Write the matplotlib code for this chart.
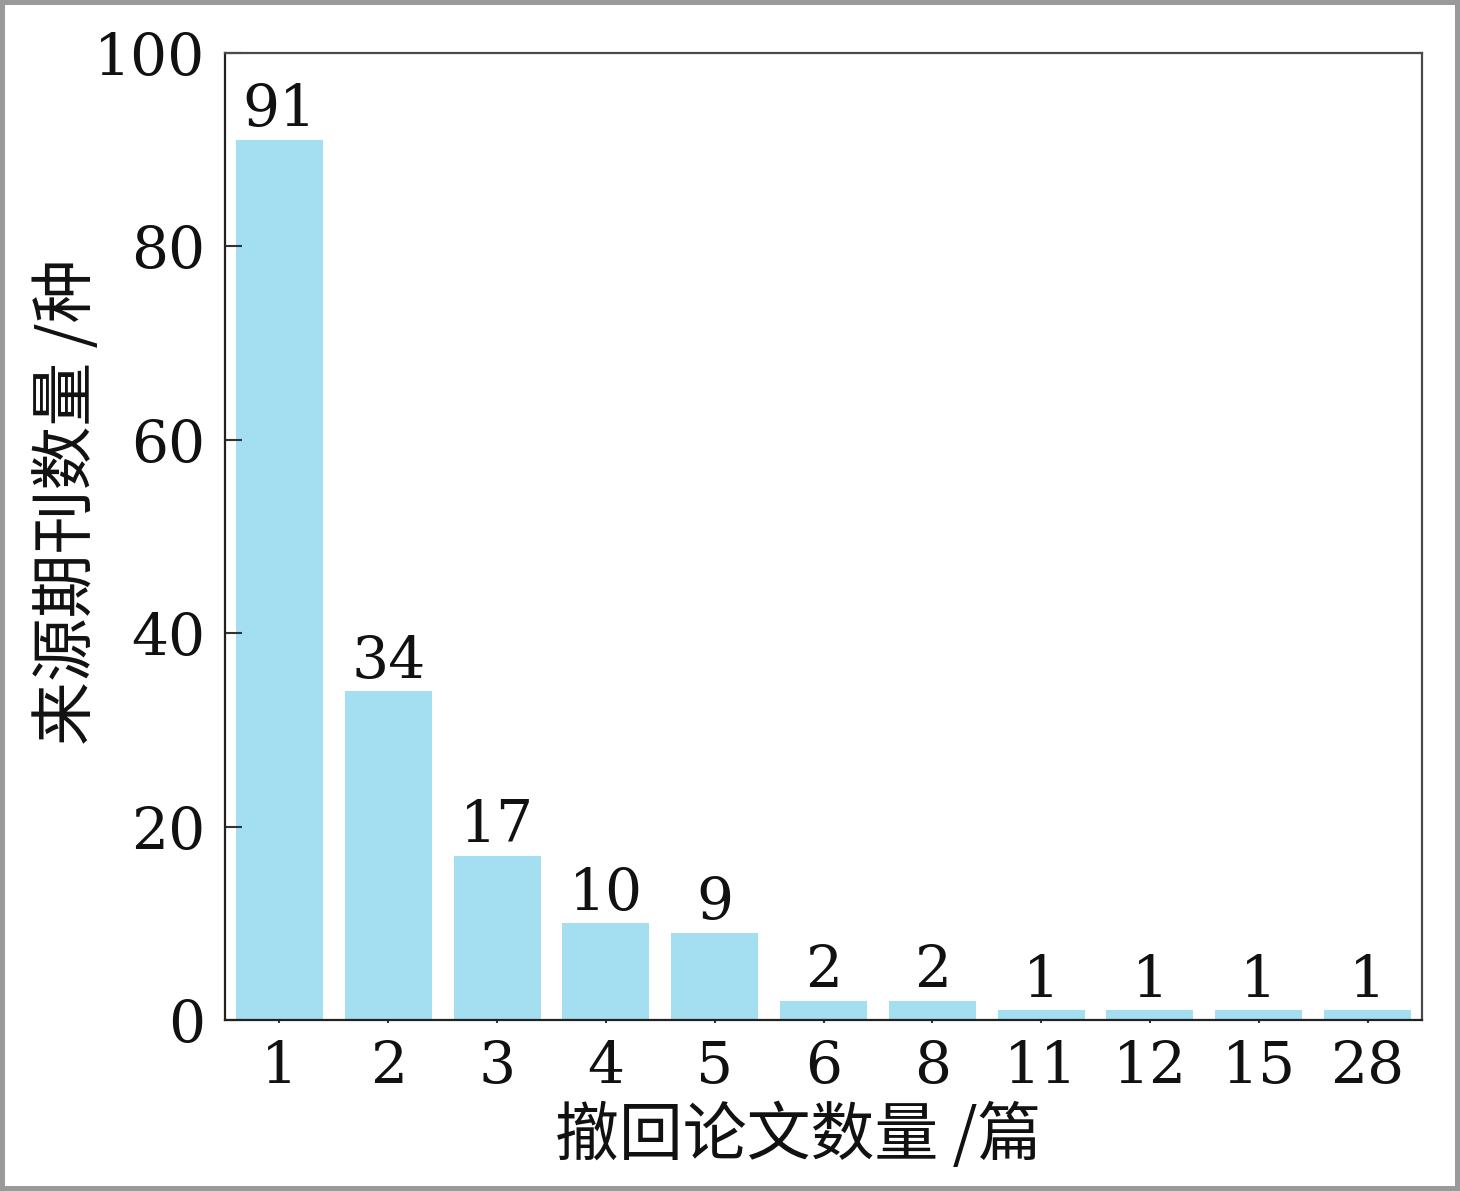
import matplotlib
matplotlib.use("Agg")
import matplotlib.pyplot as plt

# Number of retracted papers per journal vs. number of source journals
papers = ["1", "2", "3", "4", "5", "6", "8", "11", "12", "15", "28"]
journals = [91, 34, 17, 10, 9, 2, 2, 1, 1, 1, 1]

num_font = "DejaVu Serif"
cjk_font = ["Noto Sans CJK SC", "DejaVu Sans"]

fig = plt.figure(figsize=(14.6, 11.91), dpi=100)
fig.patch.set_facecolor("white")
fig.patch.set_edgecolor("#9a9a9a")
fig.patch.set_linewidth(7.2)

ax = fig.add_axes([225 / 1460, 1 - 1020 / 1191, (1422 - 225) / 1460, (1020 - 53) / 1191])

x = range(len(papers))
bars = ax.bar(x, journals, width=0.8, color="#a3dff1", edgecolor="none")

for xi, v in zip(x, journals):
    ax.text(xi, v + 1.4, str(v), ha="center", va="baseline",
            fontsize=42, family=num_font, color="#111111")

ax.set_xlim(-0.5, len(papers) - 0.5)
ax.set_ylim(0, 100)
ax.set_yticks([0, 20, 40, 60, 80, 100])
ax.set_xticks(list(x))
ax.set_xticklabels(papers)

for lbl in ax.get_xticklabels() + ax.get_yticklabels():
    lbl.set_family(num_font)
    lbl.set_fontsize(42)
    lbl.set_color("#111111")

ax.tick_params(axis="y", direction="in", length=12, width=1.5, pad=14, color="#333333")
ax.tick_params(axis="x", direction="out", length=2, width=1.5, pad=12, color="#333333")

for side in ["left", "bottom", "top", "right"]:
    ax.spines[side].set_linewidth(1.6)
    ax.spines[side].set_color("#4a4a4a")
ax.spines["left"].set_color("#222222")
ax.spines["bottom"].set_color("#222222")

fig.text(68 / 1460, 1 - 502 / 1191, "来源期刊数量 /种", rotation=90,
         ha="center", va="center", fontsize=46, family=cjk_font, color="#111111")
fig.text(798 / 1460, 1 - 1137 / 1191, "撤回论文数量 /篇",
         ha="center", va="center", fontsize=46, family=cjk_font, color="#111111")

fig.savefig("out.png", dpi=100, facecolor=fig.get_facecolor(), edgecolor=fig.get_edgecolor())
